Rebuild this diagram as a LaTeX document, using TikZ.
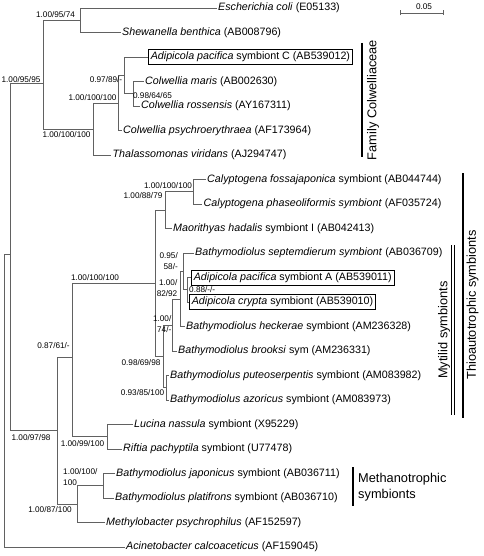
\documentclass[tikz,border=0pt]{standalone}
\usepackage{fontspec}
\setmainfont{Liberation Sans}
\usetikzlibrary{arrows.meta}

\begin{document}
\begin{tikzpicture}[x=1pt,y=-1pt,
  br/.style={draw=black!62,line width=.9pt},
  leaf/.style={anchor=west,inner sep=1.5pt,font=\fontsize{10.7}{12}\selectfont},
  boxed/.style={leaf,draw=black,line width=.6pt,inner sep=2.5pt},
  bs/.style={inner sep=0pt,font=\fontsize{8.2}{10.5}\selectfont},
  grp/.style={inner sep=0pt,font=\fontsize{12.8}{16}\selectfont},
  bar/.style={line width=2.5pt}]
\useasboundingbox (0,0) rectangle (483,556);

\node[leaf] (ecoli) at (216.5,8) {\textit{Escherichia coli} (E05133)};
\node[leaf] (shew) at (120.5,32.5) {\textit{Shewanella benthica} (AB008796)};
\node[boxed] (adipC) at (148,57) {\textit{Adipicola pacifica} symbiont C (AB539012)};
\node[leaf] (cmaris) at (143.5,81.5) {\textit{Colwellia maris} (AB002630)};
\node[leaf] (cross) at (139.5,106) {\textit{Colwellia rossensis} (AY167311)};
\node[leaf] (cpsy) at (121.5,130.5) {\textit{Colwellia psychroerythraea} (AF173964)};
\node[leaf] (thal) at (111,155) {\textit{Thalassomonas viridans} (AJ294747)};
\node[leaf] (cfos) at (205.5,179.5) {\textit{Calyptogena fossajaponica} symbiont (AB044744)};
\node[leaf] (cpha) at (202,204) {\textit{Calyptogena phaseoliformis symbiont} (AF035724)};
\node[leaf] (maor) at (171.5,228.5) {\textit{Maorithyas hadalis} symbiont I (AB042413)};
\node[leaf] (bsep) at (193.5,253) {\textit{Bathymodiolus septemdierum symbiont} (AB036709)};
\node[boxed] (adipA) at (191,277.5) {\textit{Adipicola pacifica} symbiont A (AB539011)};
\node[boxed] (adipCr) at (189,302) {\textit{Adipicola crypta} symbiont (AB539010)};
\node[leaf] (bhec) at (184.5,326.5) {\textit{Bathymodiolus heckerae} symbiont (AM236328)};
\node[leaf] (bbro) at (176.5,351) {\textit{Bathymodiolus brooksi} sym (AM236331)};
\node[leaf] (bput) at (168.5,375.5) {\textit{Bathymodiolus puteoserpentis} symbiont (AM083982)};
\node[leaf] (bazo) at (168.5,400) {\textit{Bathymodiolus azoricus} symbiont (AM083973)};
\node[leaf] (lucina) at (132.5,424.5) {\textit{Lucina nassula} symbiont (X95229)};
\node[leaf] (riftia) at (121.5,449) {\textit{Riftia pachyptila} symbiont (U77478)};
\node[leaf] (bjap) at (114.5,473.5) {\textit{Bathymodiolus japonicus} symbiont (AB036711)};
\node[leaf] (bpla) at (113.5,498) {\textit{Bathymodiolus platifrons} symbiont (AB036710)};
\node[leaf] (methylo) at (104.5,522.5) {\textit{Methylobacter psychrophilus} (AF152597)};
\node[leaf] (acin) at (124.5,547) {\textit{Acinetobacter calcoaceticus} (AF159045)};

\coordinate (root) at (4,400);
\coordinate (n10) at (10,254);
\coordinate (n43) at (43,83);
\coordinate (n80) at (80,20.25);
\coordinate (n93) at (93,129);
\coordinate (n118) at (118,103);
\coordinate (n124) at (124,75.5);
\coordinate (n133) at (133,93.75);
\coordinate (n57) at (57,430.5);
\coordinate (n72) at (72,357);
\coordinate (n155) at (155,283.2);
\coordinate (n165) at (165,210);
\coordinate (n193) at (193,191.75);
\coordinate (nE) at (163,356.4);
\coordinate (nD) at (172,325);
\coordinate (nC) at (180,299);
\coordinate (nB) at (183,271.4);
\coordinate (nA) at (187,289.75);
\coordinate (nF) at (166,387.75);
\coordinate (n107) at (107,436.75);
\coordinate (n77) at (77,504);
\coordinate (n103) at (103,485.75);

\draw[br] (root) |- (n10) (root) |- (acin.west);
\draw[br] (n10) |- (n43) (n10) |- (n57);
\draw[br] (n43) |- (n80) (n43) |- (n93);
\draw[br] (n80) |- (ecoli.west) (n80) |- (shew.west);
\draw[br] (n93) |- (n118) (n93) |- (thal.west);
\draw[br] (n118) |- (n124) (n118) |- (cpsy.west);
\draw[br] (n124) |- (adipC.west) (n124) |- (n133);
\draw[br] (n133) |- (cmaris.west) (n133) |- (cross.west);
\draw[br] (n57) |- (n72) (n57) |- (n77);
\draw[br] (n72) |- (n155) (n72) |- (n107);
\draw[br] (n155) |- (n165) (n155) |- (nE);
\draw[br] (n165) |- (n193) (n165) |- (maor.west);
\draw[br] (n193) |- (cfos.west) (n193) |- (cpha.west);
\draw[br] (nE) |- (nD) (nE) |- (nF);
\draw[br] (nD) |- (nC) (nD) |- (bbro.west);
\draw[br] (nC) |- (nB) (nC) |- (bhec.west);
\draw[br] (nB) |- (bsep.west) (nB) |- (nA);
\draw[br] (nA) |- (adipA.west) (nA) |- (adipCr.west);
\draw[br] (nF) |- (bput.west) (nF) |- (bazo.west);
\draw[br] (n107) |- (lucina.west) (n107) |- (riftia.west);
\draw[br] (n77) |- (n103) (n77) |- (methylo.west);
\draw[br] (n103) |- (bjap.west) (n103) |- (bpla.west);

\node[bs] (b80) at (55.5,15) {1.00/95/74};
\node[bs] (b43) at (21,80) {1.00/95/95};
\node[bs] (b124) at (106,80) {0.97/89/-};
\node[bs] (b133) at (152.5,96) {0.98/64/65};
\node[bs] (b118) at (92.5,98) {1.00/100/100};
\node[bs] (b93) at (66.5,135) {1.00/100/100};
\node[bs] (b193) at (168,185.5) {1.00/100/100};
\node[bs] (b165) at (143,196) {1.00/88/79};
\node[bs,align=right,anchor=east] (bB) at (178,261) {0.95/\\58/-};
\node[bs,align=right,anchor=east] (bC) at (177.5,288) {1.00/\\82/92};
\node[bs,anchor=west] (bA) at (189,289.5) {0.88/-/-};
\node[bs,align=right,anchor=east] (bD) at (171.5,324) {1.00/\\74/-};
\node[bs] (bE) at (141,363) {0.98/69/98};
\node[bs] (bF) at (142.5,393) {0.93/85/100};
\node[bs] (b155) at (95,278) {1.00/100/100};
\node[bs] (b72) at (53.5,346) {0.87/61/-};
\node[bs] (b57) at (31,438) {1.00/97/98};
\node[bs] (b107) at (82.5,444) {1.00/99/100};
\node[bs,align=left,anchor=west] (b103) at (63,477) {1.00/100/\\100};
\node[bs] (b77) at (50,510) {1.00/87/100};

\coordinate (sl) at (400,13); \coordinate (sr) at (444,13);
\draw[br,{Bar[width=5pt]}-{Bar[width=5pt]}] (sl) -- (sr);
\node[bs] (sbar) at (424,7) {0.05};

\draw[bar] (362,43) -- (362,157);
\node[grp,rotate=90] (fam) at (373,100) {Family Colwelliaceae};
\draw[bar] (463,173) -- (463,418);
\node[grp,rotate=90] (thio) at (472.5,305) {Thioautotrophic symbionts};
\draw[line width=.7pt] (451.5,245) -- (451.5,415) (454.5,245) -- (454.5,415);
\node[grp,rotate=90] (myt) at (444,330) {Mytilid symbionts};
\draw[bar] (353,467) -- (353,506);
\node[grp,align=left,anchor=west] (meth) at (358,487) {Methanotrophic\\symbionts};
\end{tikzpicture}
\end{document}
